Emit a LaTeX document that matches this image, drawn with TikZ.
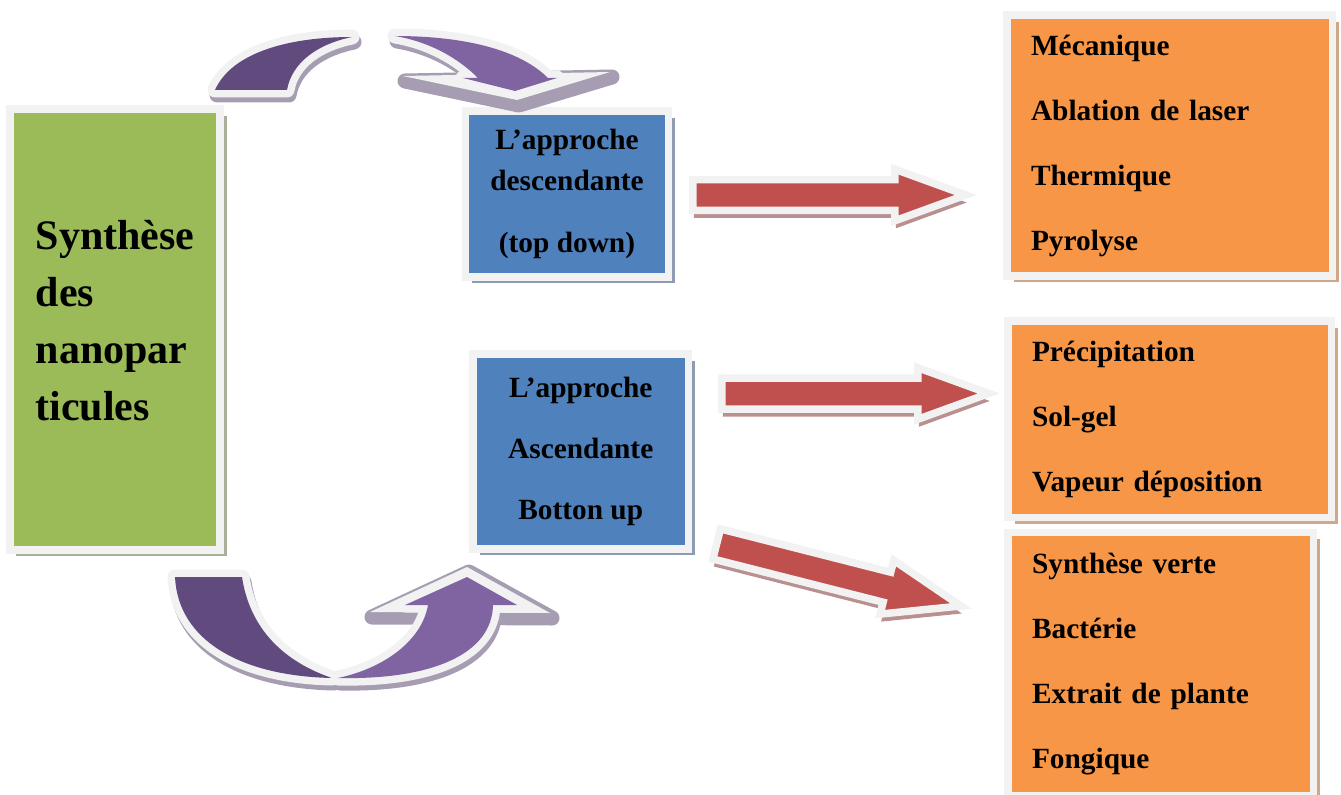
\documentclass[tikz,border=0pt]{standalone}
\usepackage{fontspec}
\setmainfont{Liberation Serif}
\usetikzlibrary{shapes.arrows,shadows}

\definecolor{cadre}{HTML}{F2F2F2}
\definecolor{vertboite}{HTML}{9BBB59}
\definecolor{bleuboite}{HTML}{4F81BD}
\definecolor{orangeboite}{HTML}{F79646}
\definecolor{rougefleche}{HTML}{C0504D}
\definecolor{violetfonce}{HTML}{614B7E}
\definecolor{violetclair}{HTML}{8064A2}
\definecolor{ombrevert}{HTML}{A9B09A}
\definecolor{ombrebleu}{HTML}{8F9BB0}
\definecolor{ombreorange}{HTML}{CFA88A}
\definecolor{ombrerouge}{HTML}{BA8F8F}
\definecolor{ombreviolet}{HTML}{A69DB3}

% contours des fleches courbes (coordonnees en pixels)
\newcommand{\hautgauche}{(215,90) .. controls (232,52) and (290,37) .. (352,37) .. controls (318,44) and (292,62) .. (287,90) -- cycle}
\newcommand{\hautdroite}{(395,36) .. controls (465,36) and (520,50) .. (548,78) -- (557,78) -- (515,91) -- (463,78) -- (478,78) .. controls (458,58) and (430,42) .. (395,36) -- cycle}
\newcommand{\hautpointe}{(403,76) -- (610,72) -- (517,100) -- cycle}
\newcommand{\basgauche}{(175,577) -- (242,577) .. controls (250,630) and (285,662) .. (332,678) .. controls (240,676) and (178,640) .. (175,577) -- cycle}
\newcommand{\basdroite}{(338,678) .. controls (430,680) and (492,655) .. (493,605) -- (517,605) -- (467,577) -- (405,605) -- (428,605) .. controls (422,640) and (385,668) .. (338,678) -- cycle}
\newcommand{\baspointe}{(370,612) -- (467,567) -- (550,613) -- cycle}

\begin{document}
\begin{tikzpicture}[x=0.02cm, y=-0.02cm,
    bloc/.style={rectangle, draw=cadre, line width=0.15cm, inner sep=0pt},
    synthese/.style={bloc, fill=vertboite, minimum width=4.21cm, minimum height=8.82cm, align=left, font=\bfseries\fontsize{23.9}{32.4}\selectfont, drop shadow={shadow xshift=0.13cm, shadow yshift=-0.13cm, fill=ombrevert, opacity=1}},
    approche/.style={bloc, fill=bleuboite, align=center, font=\bfseries\fontsize{16.7}{23.3}\selectfont, drop shadow={shadow xshift=0.13cm, shadow yshift=-0.13cm, fill=ombrebleu, opacity=1}},
    methodes/.style={bloc, fill=orangeboite, align=left, inner xsep=0.48cm, font=\bfseries\fontsize{16.7}{37}\selectfont, drop shadow={shadow xshift=0.13cm, shadow yshift=-0.13cm, fill=ombreorange, opacity=1}},
    fleche/.style={single arrow, anchor=tail, draw=cadre, line width=0.15cm, fill=rougefleche, inner xsep=0pt, inner ysep=0.235cm, single arrow head extend=0.205cm, single arrow tip angle=40, drop shadow={shadow xshift=0.02cm, shadow yshift=-0.15cm, fill=ombrerouge, opacity=1}},
    halo/.style={draw=cadre, line width=0.3cm, line join=round},
    ombre/.style={fill=ombreviolet, draw=ombreviolet, line width=0.3cm, line join=round}
]
\useasboundingbox (0,0) rectangle (1341,794);

% Bloc principal
\node[synthese] (synth) at (115,329.5) {Synthèse\\des\\nanopar\\ticules\\[-22pt]{}};

% Les deux approches
\node[approche, minimum width=4.06cm, minimum height=3.32cm] (desc) at (567,194) {L’approche\\descendante\\[12.5pt](top down)};
\node[approche, minimum width=4.31cm, minimum height=3.9cm, font=\bfseries\fontsize{16.7}{34.7}\selectfont] (asc) at (580.75,451.5) {L’approche\\Ascendante\\Botton up};

% Methodes
\node[methodes, text width=5.55cm, minimum height=5.22cm] (meth1) at (1169.75,145.5) {Mécanique\\Ablation de laser\\Thermique\\Pyrolyse};
\node[methodes, text width=5.51cm, minimum height=3.93cm] (meth2) at (1169.75,419.25) {Précipitation\\Sol-gel\\Vapeur déposition};
\node[methodes, text width=5.15cm, minimum height=5.26cm] (meth3) at (1160.75,664) {Synthèse verte\\Bactérie\\Extrait de plante\\Fongique};

% Fleches rouges (placees par leur queue)
\node[fleche, minimum height=5.46cm] (fl1) at (689,195) {};
\node[fleche, minimum height=5.34cm] (fl2) at (718,393.5) {};
\node[fleche, minimum height=5.04cm, single arrow head extend=0.245cm, rotate=-14.26] (fl3) at (713,543) {};

% Fleche courbe du haut
\begin{scope}[shift={(2,5)}]
  \path[ombre] \hautgauche;
  \path[ombre] \hautpointe;
  \path[ombre] \hautdroite;
\end{scope}
\path[halo] \hautgauche;
\fill[violetfonce] \hautgauche;
\path[fill=cadre] \hautpointe;
\path[halo] \hautdroite;
\fill[violetclair] \hautdroite;

% Fleche courbe du bas
\begin{scope}[shift={(2,5)}]
  \path[ombre] \basgauche;
  \path[ombre] \baspointe;
  \path[ombre] \basdroite;
\end{scope}
\path[halo] \basgauche;
\fill[violetfonce] \basgauche;
\path[fill=cadre] \baspointe;
\path[halo] \basdroite;
\fill[violetclair] \basdroite;

\end{tikzpicture}
\end{document}
